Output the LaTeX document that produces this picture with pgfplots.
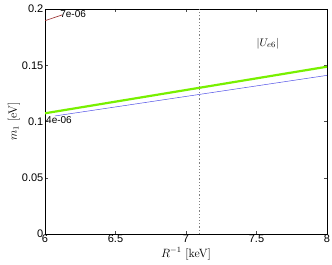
\documentclass[border=0pt]{standalone}
\usepackage{pgfplots}
\pgfplotsset{compat=1.18}
\usepackage{fontspec}
\setsansfont{Liberation Sans}
\definecolor{cgreen}{RGB}{120,240,0}
\definecolor{cblue}{RGB}{80,80,230}
\definecolor{cred}{RGB}{150,40,40}
\begin{document}
\begin{tikzpicture}
\path (-45pt,-31pt) rectangle (287pt,234pt);
\begin{axis}[
  at={(0,0)}, anchor=south west,
  scale only axis, width=282pt, height=225pt,
  xmin=6, xmax=8, ymin=0, ymax=0.2,
  xtick={6,6.5,7,7.5,8}, ytick={0,0.05,0.1,0.15,0.2},
  tick align=inside, tick pos=both,
  major tick length=3pt,
  tick style={black!70, line width=0.4pt},
  ticklabel style={font=\sffamily\fontsize{11}{11}\selectfont},
  xticklabel style={inner sep=0.5pt, yshift=-0.5pt},
  yticklabel style={inner sep=0.5pt, xshift=-1pt},
  /pgf/number format/assume math mode=true,
  yticklabel style={/pgf/number format/fixed, /pgf/number format/precision=2},
  xticklabel style={/pgf/number format/fixed},
  xlabel={$R^{-1}$ [keV]}, ylabel={$m_1$ [eV]},
  label style={font=\fontsize{12}{12}\selectfont},
  xlabel style={at={(axis description cs:0.5,0)}, anchor=north, yshift=-13.5pt, inner sep=0pt},
  ylabel style={yshift=-2pt},
  axis line style={black, line width=0.5pt},
  clip=true,
]
\addplot[cred, line width=0.6pt] coordinates {(6,0.1896) (6.12,0.1947)};
\addplot[cblue, line width=0.5pt] coordinates {(6.07,0.1049) (8,0.141)};
\addplot[cgreen, line width=2.2pt] coordinates {(6,0.1073) (8,0.1487)};
\addplot[gray, line width=1.2pt, dotted] coordinates {(7.094,0) (7.094,0.2)};
\node[font=\sffamily\fontsize{10}{10}\selectfont, anchor=west, inner sep=1pt] at (axis cs:6.1,0.1955) {7e-06};
\node[font=\sffamily\fontsize{10}{10}\selectfont, anchor=west, inner sep=1pt] at (axis cs:6.0,0.1015) {4e-06};
\node[font=\fontsize{11}{11}\selectfont] at (axis cs:7.58,0.1695) {$|U_{e6}|$};
\end{axis}
\end{tikzpicture}
\end{document}
